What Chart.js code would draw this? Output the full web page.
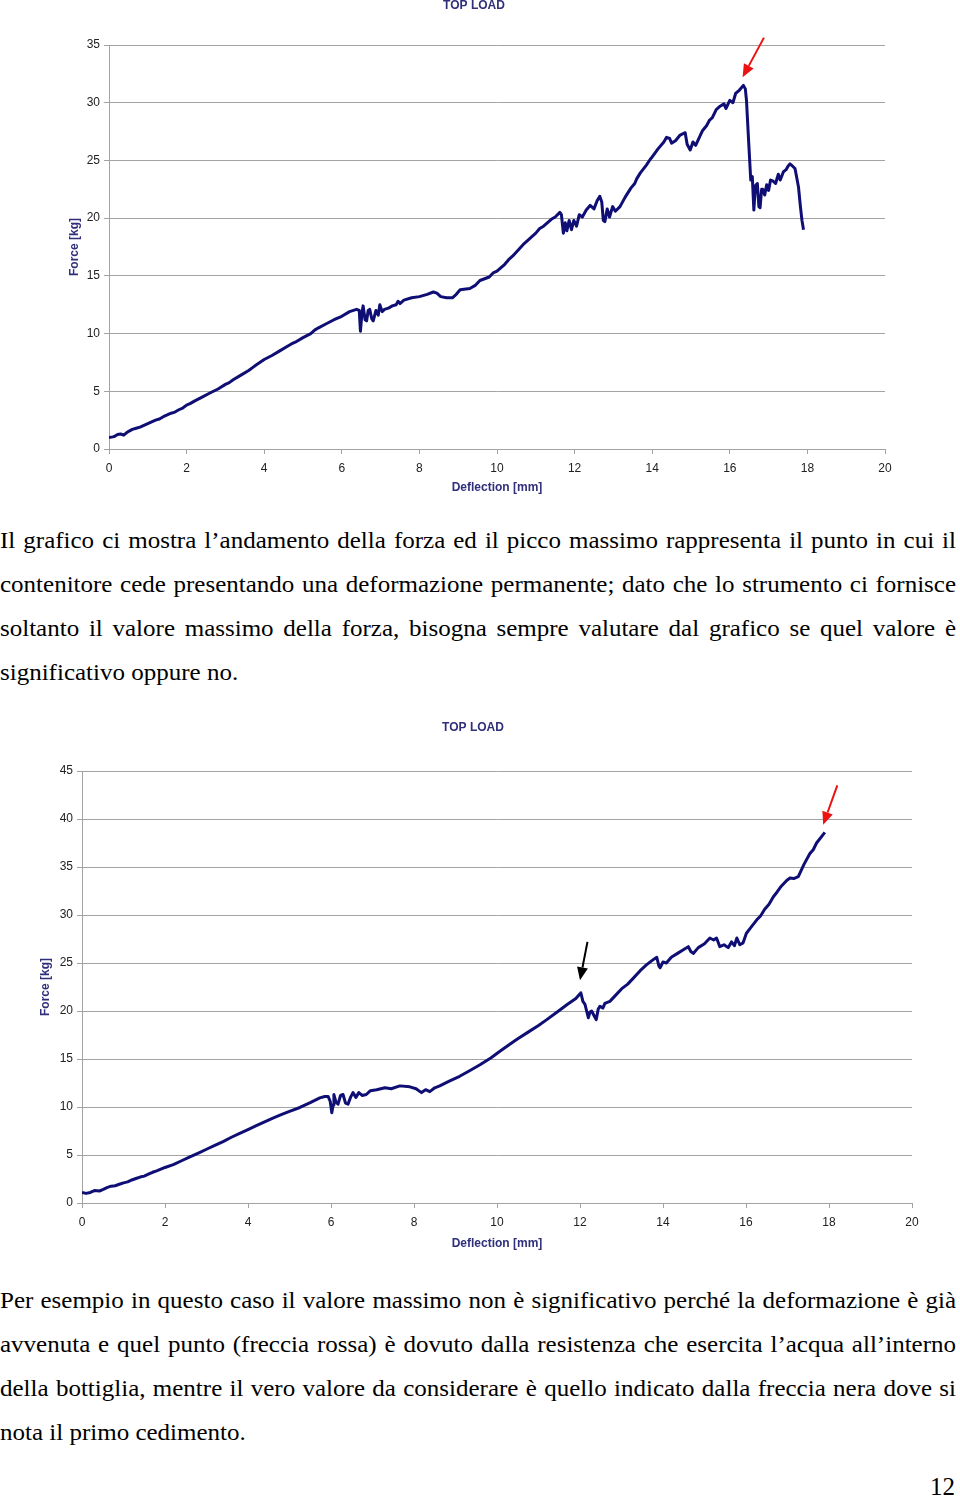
<!DOCTYPE html>
<html>
<head>
<meta charset="utf-8">
<script src="https://cdn.jsdelivr.net/npm/chart.js@4.4.1/dist/chart.umd.min.js"></script>
<style>
  html, body { margin:0; padding:0; background:#fff; }
  body { width:960px; height:1499px; position:relative; overflow:hidden; }
  .wrap { position:absolute; left:0; width:960px; }
  .para { position:absolute; left:0; width:879.5px; transform-origin:0 0; transform:scaleX(1.087);
          font-family:'Liberation Serif','Times New Roman',serif; font-size:23px; line-height:43.7px;
          text-align:justify; color:#000; }
  .pnum { position:absolute; right:5px; top:1474px; font-family:'Liberation Serif',serif; font-size:25px; line-height:25px; color:#000; }
</style>
</head>
<body>
<div class="wrap" style="top:0;height:500px"><canvas id="c1"></canvas></div>
<div class="para" style="top:519.4px">Il grafico ci mostra l’andamento della forza ed il picco massimo rappresenta il punto in cui il contenitore cede presentando una deformazione permanente; dato che lo strumento ci fornisce soltanto il valore massimo della forza, bisogna sempre valutare dal grafico se quel valore è significativo oppure no.</div>
<div class="wrap" style="top:700px;height:560px"><canvas id="c2"></canvas></div>
<div class="para" style="top:1279.4px">Per esempio in questo caso il valore massimo non è significativo perché la deformazione è già avvenuta e quel punto (freccia rossa) è dovuto dalla resistenza che esercita l’acqua all’interno della bottiglia, mentre il vero valore da considerare è quello indicato dalla freccia nera dove si nota il primo cedimento.</div>
<div class="pnum">12</div>
<script>
// ---------- DATA ----------
const chartTitle = 'TOP LOAD';
const xAxisTitle = 'Deflection [mm]';
const yAxisTitle = 'Force [kg]';
const xTicks = [0, 2, 4, 6, 8, 10, 12, 14, 16, 18, 20];
const yTicks1 = [0, 5, 10, 15, 20, 25, 30, 35];
const yTicks2 = [0, 5, 10, 15, 20, 25, 30, 35, 40, 45];

// Chart 1 : deflection [mm]
const deflection1 = [0.00,0.10,0.15,0.22,0.30,0.38,0.45,0.52,0.60,0.70,0.80,0.90,1.00,1.10,1.20,1.30,1.40,1.50,1.60,1.70,1.80,1.90,2.00,2.10,2.20,2.40,2.60,2.81,3.00,3.10,3.20,3.40,3.60,3.70,3.80,4.00,4.20,4.40,4.60,4.70,4.80,5.00,5.20,5.30,5.40,5.60,5.80,6.00,6.20,6.38,6.45,6.48,6.52,6.55,6.60,6.64,6.68,6.72,6.77,6.81,6.88,6.94,6.98,7.04,7.10,7.20,7.30,7.40,7.45,7.50,7.60,7.80,8.00,8.20,8.36,8.45,8.55,8.70,8.85,8.95,9.05,9.30,9.45,9.56,9.80,9.90,10.00,10.20,10.30,10.40,10.59,10.70,10.80,11.00,11.10,11.20,11.40,11.50,11.62,11.66,11.71,11.76,11.80,11.86,11.92,11.98,12.05,12.12,12.20,12.30,12.40,12.50,12.58,12.65,12.70,12.74,12.78,12.84,12.90,12.98,13.05,13.17,13.30,13.45,13.55,13.60,13.69,13.85,13.95,14.00,14.15,14.30,14.37,14.45,14.50,14.60,14.72,14.85,14.90,14.98,15.05,15.12,15.23,15.30,15.40,15.48,15.55,15.65,15.75,15.85,15.90,16.00,16.08,16.15,16.25,16.35,16.40,16.43,16.48,16.54,16.58,16.62,16.66,16.71,16.75,16.78,16.82,16.85,16.90,16.95,17.00,17.05,17.12,17.18,17.25,17.30,17.38,17.45,17.50,17.55,17.62,17.68,17.72,17.77,17.82,17.86,17.90];
// Chart 1 : force [kg]
const force1 = [1.0,1.05,1.1,1.25,1.3,1.2,1.4,1.55,1.7,1.8,1.9,2.05,2.2,2.35,2.5,2.6,2.8,2.95,3.1,3.2,3.4,3.55,3.8,3.95,4.15,4.5,4.85,5.2,5.6,5.75,6.0,6.4,6.8,7.05,7.3,7.75,8.1,8.5,8.9,9.1,9.25,9.65,10.0,10.3,10.5,10.85,11.2,11.5,11.9,12.1,12.0,10.2,11.8,12.4,11.2,11.1,12.0,12.1,11.3,11.1,12.0,11.6,12.5,11.9,12.1,12.2,12.4,12.5,12.8,12.6,12.9,13.1,13.2,13.4,13.6,13.5,13.2,13.1,13.1,13.4,13.8,13.9,14.2,14.6,14.9,15.25,15.4,16.0,16.4,16.7,17.4,17.8,18.1,18.7,19.1,19.3,19.9,20.1,20.5,20.3,18.7,19.6,18.9,19.8,19.0,19.8,19.3,20.3,20.1,20.7,21.1,20.8,21.5,21.9,21.4,19.8,19.7,20.8,20.1,21.0,20.6,21.0,21.8,22.6,23.0,23.4,23.9,24.6,25.1,25.3,26.0,26.6,27.0,26.9,26.5,26.7,27.2,27.4,26.4,25.9,26.6,26.3,27.1,27.6,28.0,28.5,28.7,29.4,29.7,29.9,29.5,30.2,30.0,30.8,31.1,31.5,31.2,30.2,27.0,23.3,23.6,20.7,22.8,23.0,21.0,20.9,22.5,22.5,22.0,22.9,22.4,23.3,23.2,23.0,23.8,23.3,24.0,24.2,24.5,24.7,24.5,24.3,23.6,22.7,21.0,19.8,19.0];

// Chart 2 : deflection [mm]
const deflection2 = [0.00,0.10,0.20,0.30,0.42,0.50,0.60,0.70,0.80,0.90,1.00,1.10,1.20,1.30,1.40,1.50,1.60,1.70,1.80,2.00,2.20,2.40,2.60,2.83,3.00,3.20,3.40,3.60,3.80,4.00,4.20,4.40,4.60,4.80,5.00,5.25,5.50,5.73,5.85,5.93,5.98,6.02,6.05,6.07,6.12,6.17,6.23,6.29,6.35,6.41,6.47,6.53,6.60,6.67,6.75,6.85,6.95,7.10,7.30,7.45,7.66,7.90,8.05,8.18,8.28,8.38,8.50,8.62,8.85,9.10,9.35,9.59,9.85,10.07,10.30,10.50,10.75,11.00,11.20,11.45,11.70,11.90,12.00,12.02,12.07,12.12,12.16,12.20,12.24,12.28,12.34,12.39,12.44,12.48,12.55,12.60,12.72,12.85,13.00,13.15,13.28,13.45,13.60,13.78,13.85,13.90,13.93,14.00,14.08,14.20,14.35,14.50,14.61,14.67,14.73,14.85,15.00,15.13,15.22,15.29,15.37,15.47,15.57,15.65,15.72,15.78,15.85,15.93,16.01,16.10,16.26,16.35,16.45,16.55,16.66,16.75,16.85,16.98,17.06,17.15,17.26,17.40,17.54,17.62,17.70,17.90];
// Chart 2 : force [kg]
const force2 = [1.1,1.0,1.1,1.3,1.25,1.4,1.6,1.75,1.8,1.95,2.1,2.2,2.4,2.55,2.7,2.8,3.0,3.2,3.35,3.7,4.0,4.4,4.8,5.25,5.6,6.0,6.4,6.85,7.25,7.65,8.05,8.45,8.85,9.2,9.55,9.95,10.45,10.95,11.1,11.1,10.6,9.4,10.2,11.3,10.5,10.3,11.2,11.3,10.4,10.3,11.0,11.5,11.0,11.5,11.2,11.3,11.7,11.8,12.0,11.9,12.2,12.1,11.9,11.5,11.8,11.6,12.0,12.2,12.7,13.2,13.8,14.4,15.1,15.8,16.5,17.1,17.8,18.5,19.1,19.9,20.7,21.3,21.8,21.9,21.0,20.7,20.0,19.3,19.9,20.0,19.5,19.1,20.2,20.5,20.3,20.8,21.0,21.6,22.3,22.8,23.4,24.2,24.8,25.4,25.6,24.7,24.5,25.1,25.0,25.6,26.0,26.4,26.7,26.2,26.0,26.6,27.0,27.6,27.4,27.6,26.7,26.9,26.6,27.2,26.8,27.6,26.9,27.1,28.1,28.6,29.5,29.9,30.6,31.1,31.9,32.4,33.0,33.6,33.85,33.8,34.0,35.3,36.4,36.8,37.5,38.6];

// Arrow annotations (tail x, tail y, tip x, tip y) in data units
const arrows1Red   = [16.88, 35.64, 16.33, 32.2];
const arrows2Red   = [18.20, 43.5, 17.86, 39.4];
const arrows2Black = [12.18, 27.2, 12.00, 23.2];

// ---------- CHART SETUP ----------
const NAVY = '#0e0e74';
const GRID = '#a3a3a3';
const TXT_BLUE = '#2f2f7c';
Chart.defaults.font.family = "'Liberation Sans', Arial, sans-serif";
Chart.defaults.color = '#222';

const arrowPlugin = {
  id: 'arrows',
  afterDatasetsDraw(chart, args, opts) {
    const ctx = chart.ctx, xs = chart.scales.x, ys = chart.scales.y;
    (opts.list || []).forEach(a => {
      const [x0, y0, x1, y1] = a.pts;
      const px0 = xs.getPixelForValue(x0), py0 = ys.getPixelForValue(y0);
      const px1 = xs.getPixelForValue(x1), py1 = ys.getPixelForValue(y1);
      const ang = Math.atan2(py1 - py0, px1 - px0);
      const head = 13, half = 5.5;
      const bx = px1 - head * Math.cos(ang), by = py1 - head * Math.sin(ang);
      ctx.save();
      ctx.strokeStyle = a.color; ctx.fillStyle = a.color; ctx.lineWidth = 2;
      ctx.beginPath(); ctx.moveTo(px0, py0); ctx.lineTo(bx, by); ctx.stroke();
      ctx.beginPath();
      ctx.moveTo(px1, py1);
      ctx.lineTo(bx + half * Math.sin(ang), by - half * Math.cos(ang));
      ctx.lineTo(bx - half * Math.sin(ang), by + half * Math.cos(ang));
      ctx.closePath(); ctx.fill();
      ctx.restore();
    });
  }
};

function makeChart(id, xs, ys, yTicks, cfg) {
  const pts = xs.map((x, i) => ({ x: x, y: ys[i] }));
  return new Chart(document.getElementById(id), {
    type: 'line',
    data: { datasets: [{ data: pts, borderColor: NAVY, borderWidth: 3, pointRadius: 0, tension: 0, fill: false, borderJoinStyle: 'round' }] },
    plugins: [arrowPlugin],
    options: {
      responsive: true, maintainAspectRatio: false, animation: false,
      layout: { padding: cfg.padding },
      plugins: {
        legend: { display: false }, tooltip: { enabled: false },
        title: { display: true, text: chartTitle, color: TXT_BLUE,
                 font: { size: 12, weight: 'bold', lineHeight: 1.0 }, padding: cfg.titlePad },
        arrows: { list: cfg.arrows }
      },
      scales: {
        x: {
          type: 'linear', min: xTicks[0], max: xTicks[xTicks.length - 1],
          afterBuildTicks: s => { s.ticks = xTicks.map(v => ({ value: v })); },
          afterFit: s => { s.height = cfg.xH; },
          ticks: { padding: 7, font: { size: 12 }, color: '#222', maxRotation: 0 },
          grid: { drawOnChartArea: false, drawTicks: true, tickLength: 5, color: GRID },
          border: { color: GRID, width: 1 },
          title: { display: true, text: xAxisTitle, color: TXT_BLUE, font: { size: 12, weight: 'bold' }, padding: { top: 4, bottom: 4 } }
        },
        y: {
          type: 'linear', min: yTicks[0], max: yTicks[yTicks.length - 1],
          afterBuildTicks: s => { s.ticks = yTicks.map(v => ({ value: v })); },
          afterFit: s => { s.width = cfg.yW; },
          ticks: { padding: 4, font: { size: 12 }, color: '#222' },
          grid: { drawTicks: true, tickLength: 5, color: GRID, lineWidth: 1 },
          border: { color: GRID, width: 1 },
          title: { display: true, text: yAxisTitle, color: TXT_BLUE, font: { size: 12, weight: 'bold' }, padding: { top: 4, bottom: 4 } }
        }
      }
    }
  });
}

makeChart('c1', deflection1, force1, yTicks1, {
  padding: { left: 63, right: 75, top: 0, bottom: 1 },
  titlePad: { top: 0, bottom: 33 },
  xH: 50, yW: 46,
  arrows: [{ pts: arrows1Red, color: '#ee1111' }]
});
makeChart('c2', deflection2, force2, yTicks2, {
  padding: { left: 34, right: 48, top: 0, bottom: 5.5 },
  titlePad: { top: 22, bottom: 37 },
  xH: 51.5, yW: 48,
  arrows: [{ pts: arrows2Red, color: '#ee1111' }, { pts: arrows2Black, color: '#000000' }]
});
</script>
</body>
</html>
